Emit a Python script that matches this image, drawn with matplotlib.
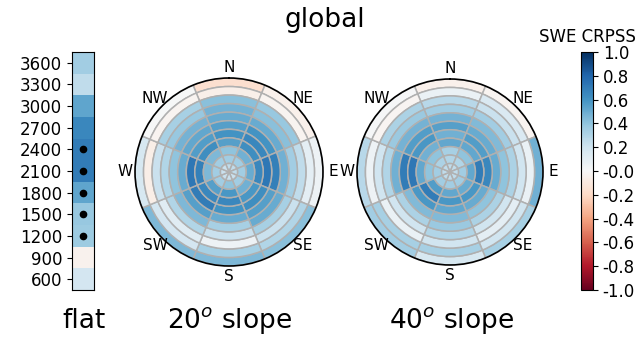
import numpy as np
import matplotlib
matplotlib.use("Agg")
import matplotlib.pyplot as plt
from matplotlib import cm, colors

# elevation bands (m), lowest band on the outside of the polar plots
elevations = [600, 900, 1200, 1500, 1800, 2100, 2400, 2700, 3000, 3300, 3600]
aspects = ['N', 'NE', 'E', 'SE', 'S', 'SW', 'W', 'NW']
aspect_deg = [0, 45, 90, 135, 180, 225, 270, 315]

# CRPSS on flat terrain, per elevation band
flat_crpss = [0.18, -0.04, 0.36, 0.38, 0.53, 0.70, 0.70, 0.65, 0.53, 0.25, 0.35]
flat_signif = [1200, 1500, 1800, 2100, 2400]

# CRPSS per aspect (rows) and elevation band (columns), 20 deg slope
slope20 = [
    [-0.17, -0.06, 0.42, 0.47, 0.50, 0.55, 0.60, 0.55, 0.40, 0.35, 0.25],  # N
    [-0.05, -0.03, 0.38, 0.42, 0.50, 0.60, 0.65, 0.62, 0.48, 0.35, 0.25],  # NE
    [0.05, 0.10, 0.25, 0.35, 0.48, 0.68, 0.72, 0.65, 0.50, 0.35, 0.25],    # E
    [0.42, 0.30, 0.22, 0.33, 0.50, 0.55, 0.62, 0.58, 0.48, 0.35, 0.22],    # SE
    [0.45, 0.33, 0.05, 0.22, 0.33, 0.50, 0.60, 0.65, 0.58, 0.40, 0.22],    # S
    [0.45, 0.18, 0.12, 0.30, 0.45, 0.55, 0.70, 0.65, 0.55, 0.35, 0.22],    # SW
    [0.17, -0.07, 0.22, 0.30, 0.40, 0.50, 0.72, 0.68, 0.45, 0.35, 0.22],   # W
    [0.00, -0.03, 0.33, 0.38, 0.47, 0.52, 0.56, 0.62, 0.45, 0.35, 0.22],   # NW
]

# CRPSS per aspect (rows) and elevation band (columns), 40 deg slope
slope40 = [
    [-0.05, 0.07, 0.28, 0.35, 0.47, 0.55, 0.48, 0.52, 0.33, 0.30, 0.25],   # N
    [-0.03, 0.15, 0.22, 0.35, 0.44, 0.50, 0.56, 0.52, 0.40, 0.30, 0.25],   # NE
    [0.48, 0.07, 0.20, 0.32, 0.40, 0.50, 0.65, 0.70, 0.52, 0.35, 0.25],    # E
    [0.33, 0.20, 0.10, 0.20, 0.32, 0.40, 0.50, 0.58, 0.50, 0.35, 0.25],    # SE
    [0.17, 0.33, 0.20, 0.30, 0.37, 0.44, 0.52, 0.58, 0.52, 0.35, 0.25],    # S
    [0.35, 0.33, 0.07, 0.20, 0.32, 0.44, 0.58, 0.70, 0.56, 0.35, 0.25],    # SW
    [0.28, 0.05, 0.20, 0.30, 0.48, 0.70, 0.72, 0.52, 0.40, 0.35, 0.25],    # W
    [0.01, -0.02, 0.32, 0.37, 0.47, 0.56, 0.58, 0.48, 0.40, 0.32, 0.25],   # NW
]

cmap = plt.get_cmap('RdBu')
norm = colors.Normalize(vmin=-1, vmax=1)
grid_col = '#b0b0b0'

fig = plt.figure(figsize=(6.43, 3.42), dpi=100)

# ---- flat column
ax0 = fig.add_axes([72/643, 52/342, 22/643, 238/342])
edges = np.append(np.array(elevations) - 150, elevations[-1] + 150)
ax0.pcolormesh([0, 1], edges, np.array(flat_crpss).reshape(-1, 1), cmap=cmap, norm=norm)
ax0.plot([0.5]*len(flat_signif), flat_signif, 'ko', ms=4.5)
ax0.set_xlim(0, 1)
ax0.set_ylim(edges[0], edges[-1])
ax0.set_xticks([])
ax0.set_yticks(elevations)
ax0.tick_params(axis='y', labelsize=12)


def draw_rose(ax, data):
    width = 2*np.pi/len(aspects)
    nb = len(elevations)
    for i, ang in enumerate(aspect_deg):
        for j, v in enumerate(data[i]):
            # highest band sits in the middle
            r0 = nb - 1 - j
            ax.bar(np.deg2rad(ang), 1, width=width, bottom=r0,
                   color=cmap(norm(v)), edgecolor=grid_col, linewidth=1.1)
    ax.set_theta_zero_location('N')
    ax.set_theta_direction(-1)
    ax.set_ylim(0, nb)
    ax.set_yticks([])
    ax.set_xticks(np.deg2rad(aspect_deg))
    ax.set_xticklabels(aspects, fontsize=11)
    ax.tick_params(axis='x', pad=-3)
    ax.grid(False)
    ax.spines['polar'].set_linewidth(1.2)


ax1 = fig.add_axes([135/643, 76/342, 188/643, 188/342], projection='polar')
draw_rose(ax1, slope20)
ax2 = fig.add_axes([357/643, 77/342, 186/643, 186/342], projection='polar')
draw_rose(ax2, slope40)

# ---- colorbar
cax = fig.add_axes([581/643, 52/342, 12/643, 238/342])
sm = cm.ScalarMappable(norm=norm, cmap=cmap)
cb = fig.colorbar(sm, cax=cax)
cb_ticks = np.linspace(-1, 1, 11)
cb.set_ticks(cb_ticks)
cb.set_ticklabels(['-1.0', '-0.8', '-0.6', '-0.4', '-0.2', '-0.0',
                   '0.2', '0.4', '0.6', '0.8', '1.0'])
cax.tick_params(labelsize=12)
fig.text(587/643, 1 - 37/342, 'SWE CRPSS', ha='center', va='center', fontsize=12)

# ---- labels
fig.text(325/643, 1 - 20/342, 'global', ha='center', va='center', fontsize=19)
fig.text(84/643, 1 - 321/342, 'flat', ha='center', va='center', fontsize=19)
fig.text(230/643, 1 - 321/342, r'20$^o$ slope', ha='center', va='center', fontsize=19)
fig.text(452/643, 1 - 321/342, r'40$^o$ slope', ha='center', va='center', fontsize=19)

fig.savefig('out.png', dpi=100)
